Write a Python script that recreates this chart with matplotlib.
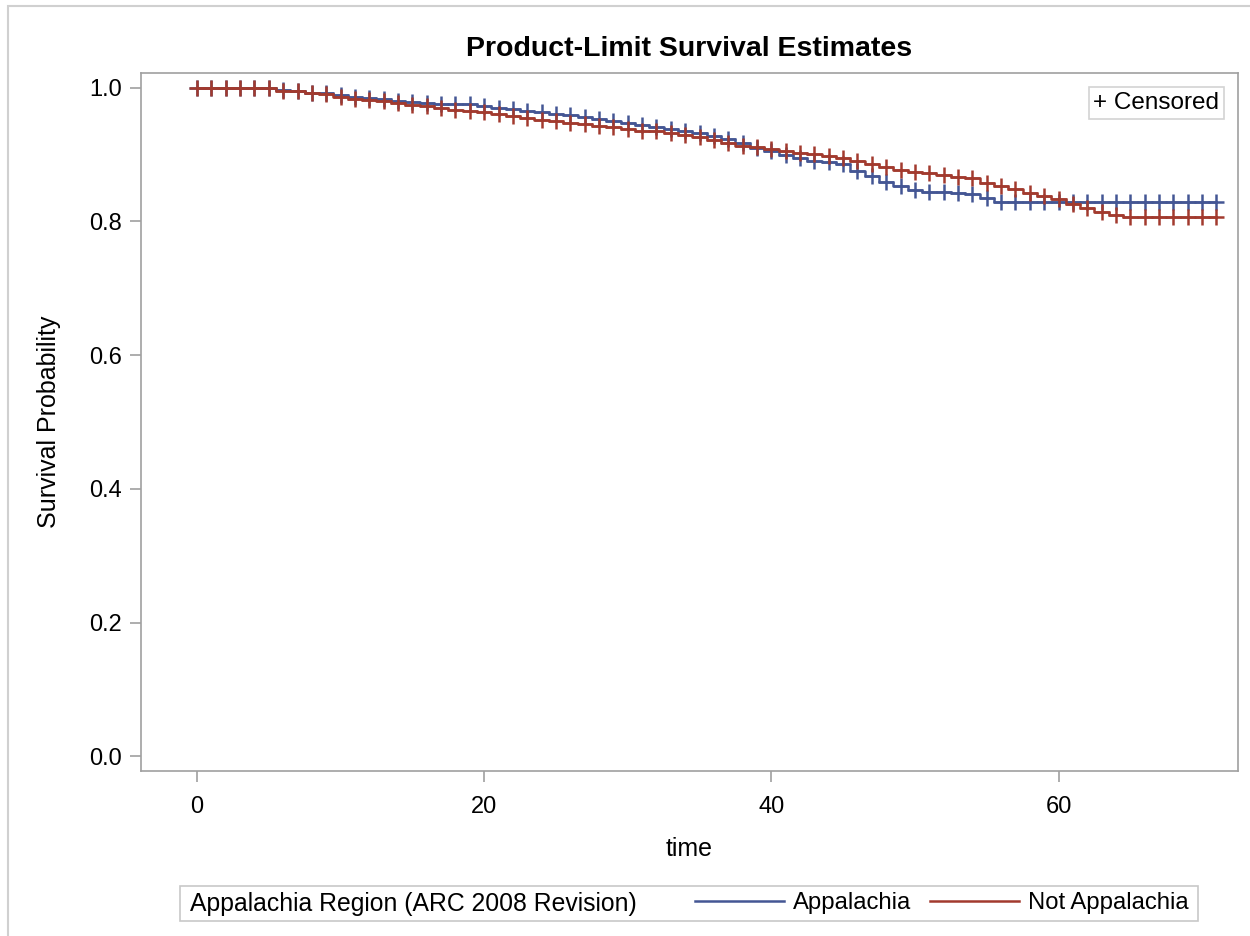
import numpy as np
import matplotlib.pyplot as plt
from matplotlib.lines import Line2D
from matplotlib.patches import Rectangle

plt.rcParams['font.family'] = ['Liberation Sans', 'DejaVu Sans']

# time points (censoring marks at each)
times = np.arange(0, 72)

# survival estimates
surv_app = [1.000, 1.000, 1.000, 1.000, 1.000, 1.000, 0.996, 0.995, 0.9925, 0.992,
            0.9885, 0.9865, 0.985, 0.983, 0.9805, 0.979, 0.9775, 0.976, 0.9755, 0.975,
            0.973, 0.970, 0.968, 0.9655, 0.963, 0.961, 0.959, 0.956, 0.953, 0.950,
            0.947, 0.944, 0.9415, 0.938, 0.935, 0.9325, 0.928, 0.923, 0.918, 0.910,
            0.9055, 0.900, 0.895, 0.891, 0.8885, 0.886, 0.8755, 0.868, 0.859, 0.853,
            0.847, 0.844, 0.8435, 0.843, 0.841, 0.835, 0.829, 0.829, 0.829, 0.829,
            0.829, 0.829, 0.829, 0.829, 0.829, 0.829, 0.829, 0.829, 0.829, 0.829,
            0.829, 0.829]
surv_not = [1.000, 1.000, 1.000, 1.000, 1.000, 1.000, 0.9955, 0.9945, 0.992, 0.991,
            0.986, 0.9835, 0.981, 0.9795, 0.9775, 0.9745, 0.972, 0.970, 0.967, 0.9655,
            0.964, 0.961, 0.958, 0.955, 0.952, 0.950, 0.9475, 0.945, 0.943, 0.941,
            0.9385, 0.936, 0.935, 0.9325, 0.9295, 0.926, 0.922, 0.918, 0.913, 0.911,
            0.9085, 0.9055, 0.9025, 0.9005, 0.898, 0.8945, 0.890, 0.8855, 0.881, 0.877,
            0.874, 0.872, 0.869, 0.866, 0.8645, 0.858, 0.853, 0.849, 0.843, 0.8375,
            0.833, 0.826, 0.820, 0.8135, 0.810, 0.806, 0.806, 0.806, 0.806, 0.806,
            0.806, 0.806]

c_app = '#445694'
c_not = '#A23A2E'

fig = plt.figure(figsize=(12.5, 9.36), dpi=100)
ax = fig.add_axes([0.1128, 0.1763, 0.8776, 0.7457])

ax.step(times, surv_app, where='mid', color=c_app, lw=1.8)
ax.plot(times, surv_app, ls='none', marker='+', ms=11, mew=1.8, color=c_app)
ax.step(times, surv_not, where='mid', color=c_not, lw=1.8)
ax.plot(times, surv_not, ls='none', marker='+', ms=11, mew=1.8, color=c_not)

ax.set_xlim(-3.9, 72.5)
ax.set_ylim(-0.022, 1.022)
ax.set_xticks([0, 20, 40, 60])
ax.set_yticks([0.0, 0.2, 0.4, 0.6, 0.8, 1.0])
ax.set_yticklabels(['0.0', '0.2', '0.4', '0.6', '0.8', '1.0'])
ax.tick_params(colors='#a0a0a0', labelcolor='black', labelsize=17, length=8, width=1.2)
ax.tick_params(axis='x', pad=10)
ax.tick_params(axis='y', pad=6)
for s in ax.spines.values():
    s.set_color('#a0a0a0')
    s.set_linewidth(1.2)

ax.set_xlabel('time', fontsize=18, labelpad=14)
ax.set_ylabel('Survival Probability', fontsize=18, labelpad=20)
ax.set_title('Product-Limit Survival Estimates', fontsize=20.5, fontweight='bold', pad=12)

# censored legend
leg1 = ax.legend([Line2D([], [], ls='none')], ['+ Censored'], loc='upper right',
                 fontsize=17.5, handlelength=0, handletextpad=0, fancybox=False,
                 edgecolor='#c8c8c8', borderpad=0.2, borderaxespad=0,
                 bbox_to_anchor=(0.9875, 0.98))
leg1.get_frame().set_linewidth(1.2)

# bottom legend
fig.patches.append(Rectangle((180 / 1250, 1 - 921 / 936), 1018 / 1250, 35 / 936,
                             transform=fig.transFigure, fill=False,
                             edgecolor='#c8c8c8', lw=1.2))
fig.text(190 / 1250, 1 - 903.5 / 936, 'Appalachia Region (ARC 2008 Revision)',
         fontsize=17.8, va='center', ha='left')
fig.legend([Line2D([], [], color=c_app, lw=1.8), Line2D([], [], color=c_not, lw=1.8)],
           ['Appalachia', 'Not Appalachia'], ncol=2, frameon=False, fontsize=17.2,
           handlelength=3.7, handletextpad=0.4, columnspacing=0.8,
           loc='center right', bbox_to_anchor=(1189 / 1250, 1 - 903.5 / 936),
           borderpad=0, borderaxespad=0)

# outer frame
fig.patches.append(Rectangle((8 / 1250, -0.01), 1.1, 1 - 6 / 936 + 0.01,
                             transform=fig.transFigure, fill=False,
                             edgecolor='#d0d0d0', lw=1.5))

fig.savefig('out.png', dpi=100)
